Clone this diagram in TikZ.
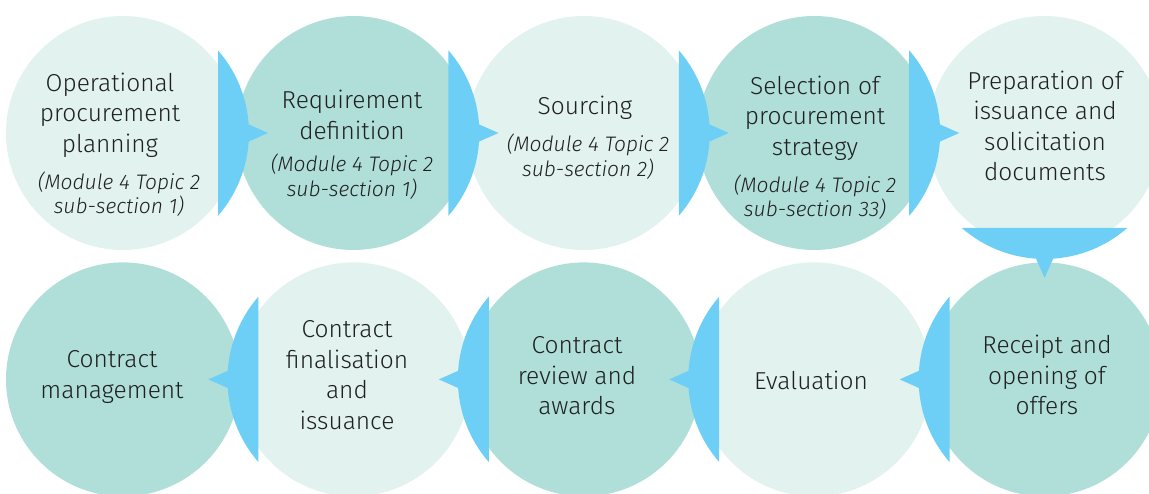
\documentclass[tikz,border=0pt]{standalone}
\usepackage{fontspec}
\setmainfont{Fira Sans}[UprightFont=* Light,ItalicFont=* Light Italic]
\usepackage{xcolor}
\usetikzlibrary{positioning}
\definecolor{stepdark}{HTML}{B0DFDA}
\definecolor{steplight}{HTML}{E1F2EF}
\definecolor{capblue}{HTML}{6DCFF6}
\definecolor{txt}{HTML}{202020}

\begin{document}
\begin{tikzpicture}[x=1pt,y=1pt,
  disc/.style={circle,minimum size=234pt,inner sep=0pt},
  title/.style={align=center,inner sep=0pt,text=txt,font=\fontsize{24.5}{30.5}\selectfont},
  sub/.style={align=center,inner sep=0pt,text=txt,font=\itshape\fontsize{21}{24.5}\selectfont},
  node distance=14pt]
\useasboundingbox (0,0) rectangle (1149,493);
\clip (0,0) rectangle (1149,493);
% circles, top row left to right, bottom row right to left
\node[disc,fill=steplight] (plan) at (123,360) {};
\node[disc,fill=stepdark,right=-4pt of plan] (reqdef) {};
\node[disc,fill=steplight,right=-4pt of reqdef] (sourcing) {};
\node[disc,fill=stepdark,right=-4pt of sourcing] (strategy) {};
\node[disc,fill=steplight,right=-4pt of strategy] (prepdocs) {};
\node[disc,fill=stepdark,below=12pt of prepdocs] (receipt) {};
\node[disc,fill=steplight,left=-4pt of receipt] (evaluation) {};
\node[disc,fill=stepdark,left=-4pt of evaluation] (review) {};
\node[disc,fill=steplight,left=-4pt of review] (finalise) {};
\node[disc,fill=stepdark,left=-4pt of finalise] (manage) {};
% blue caps with tips
\foreach \src/\ang in {plan/0,reqdef/0,sourcing/0,strategy/0,prepdocs/-90,
                       receipt/180,evaluation/180,review/180,finalise/180}
  \fill[capblue,shift={(\src.center)},rotate=\ang]
    (95,-82.8) arc[start angle=-41.05,end angle=41.05,radius=126] -- cycle
    (118,-12) -- (145,0) -- (118,12) -- cycle;
% labels
\node[title] (planT) at (110,378) {Operational\\procurement\\planning};
\node[sub,below=of planT,xshift=9pt] (planS) {(Module 4 Topic 2\\sub-section 1)};
\node[title] (reqdefT) at (352,378) {Requirement\\definition};
\node[sub,below=of reqdefT] (reqdefS) {(Module 4 Topic 2\\sub-section 1)};
\node[title] (sourcingT) at (585,385) {Sourcing};
\node[sub,below=of sourcingT,xshift=3pt] (sourcingS) {(Module 4 Topic 2\\sub-section 2)};
\node[title] (strategyT) at (815,375) {Selection of\\procurement\\strategy};
\node[sub,below=of strategyT] (strategyS) {(Module 4 Topic 2\\sub-section 33)};
\node[title] (prepdocsT) at (1045,367) {Preparation of\\issuance and\\solicitation\\documents};
\node[title] (receiptT) at (1047,118) {Receipt and\\opening of\\offers};
\node[title] (evaluationT) at (811,113) {Evaluation};
\node[title] (reviewT) at (577,117) {Contract\\review and\\awards};
\node[title] (finaliseT) at (347,118) {Contract\\finalisation\\and\\issuance};
\node[title] (manageT) at (112,116) {Contract\\management};
\end{tikzpicture}
\end{document}
